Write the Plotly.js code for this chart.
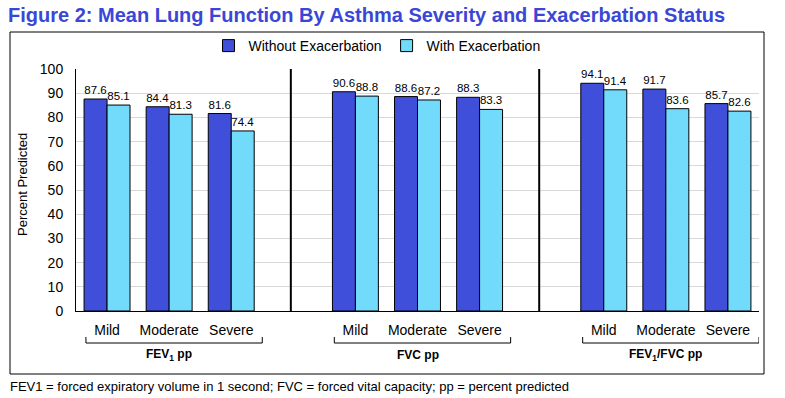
<!DOCTYPE html>
<html><head><meta charset="utf-8">
<script src="https://cdn.plot.ly/plotly-3.0.1.min.js"></script>
<style>html,body{margin:0;padding:0;background:#fff;}#chart{width:785px;height:398px;}</style>
</head><body><div id="chart"></div>
<script>
const groups = ["FEV<sub>1</sub> pp", "FVC pp", "FEV<sub>1</sub>/FVC pp"];
const severities = ["Mild", "Moderate", "Severe"];
const withoutExac = [87.6, 84.4, 81.6, 90.6, 88.6, 88.3, 94.1, 91.7, 85.7];
const withExac    = [85.1, 81.3, 74.4, 88.8, 87.2, 83.3, 91.4, 83.6, 82.6];
const seriesNames = ["Without Exacerbation", "With Exacerbation"];
const yTicks = [0,10,20,30,40,50,60,70,80,90,100];

const W = 785, H = 398;
const M = {l:76, r:26, t:69, b:87};
const PW = W - M.l - M.r, PH = H - M.t - M.b;
const px2x = p => (p - M.l) / PW;
const py2y = p => 1 - (p - M.t) / PH;

// slot positions: group g, severity s -> g*4 + s
const xs = [], labels = [];
groups.forEach((g, gi) => severities.forEach((s, si) => { xs.push(gi*4 + si); labels.push(s); }));

const font = "Liberation Sans, Arial, sans-serif";
const traces = [
  {type:"bar", name:seriesNames[0], x:xs, y:withoutExac, text:withoutExac.map(v=>v.toFixed(1)),
   textposition:"outside", textfont:{size:11.5, color:"#000", family:font}, cliponaxis:false,
   marker:{color:"#3F4FDA", line:{color:"#000", width:1}}, hoverinfo:"none"},
  {type:"bar", name:seriesNames[1], x:xs, y:withExac, text:withExac.map(v=>v.toFixed(1)),
   textposition:"outside", textfont:{size:11.5, color:"#000", family:font}, cliponaxis:false,
   marker:{color:"#72DAFA", line:{color:"#000", width:1}}, hoverinfo:"none"}
];

const shapes = [];
// outer border
shapes.push({type:"rect", xref:"paper", yref:"paper", x0:px2x(10), x1:px2x(764), y0:py2y(374), y1:py2y(32),
  line:{color:"#000", width:1}, layer:"below"});
// separators
[3, 7].forEach(x => shapes.push({type:"line", xref:"x", yref:"paper", x0:x-0.04, x1:x-0.04, y0:0, y1:1, line:{color:"#000", width:2}}));
// brackets
const annotations = [];
groups.forEach((g, gi) => {
  const a = gi*4 - 0.34, b = gi*4 + 2.5;
  const yl = py2y(343), yt = py2y(337);
  shapes.push({type:"path", xref:"x", yref:"paper",
    path:`M ${a},${yt} L ${a},${yl} L ${b},${yl} L ${b},${yt}`, line:{color:"#000", width:1}});
  annotations.push({xref:"x", yref:"paper", x:gi*4+1, y:py2y(355), text:"<b>"+g+"</b>", showarrow:false,
    font:{size:12, color:"#000", family:font}, xanchor:"center", yanchor:"middle"});
});
// y title
annotations.push({xref:"paper", yref:"paper", x:px2x(22), y:py2y(185), text:"Percent Predicted", textangle:-90,
  xanchor:"center", yanchor:"middle",
  showarrow:false, font:{size:13, color:"#000", family:font}});
// footnote
annotations.push({xref:"paper", yref:"paper", x:px2x(8), y:py2y(386), xanchor:"left", yanchor:"middle",
  text:"FEV1 = forced expiratory volume in 1 second; FVC = forced vital capacity; pp = percent predicted",
  showarrow:false, font:{size:13, color:"#000", family:font}});

const layout = {
  width:W, height:H, margin:M, paper_bgcolor:"#fff", plot_bgcolor:"#fff",
  title:{text:"<b>Figure 2: Mean Lung Function By Asthma Severity and Exacerbation Status</b>",
    x:8/W, xanchor:"left", y:1-15/H, yanchor:"middle", font:{size:20, color:"#3A47D6", family:font}},
  barmode:"group", bargap:0.26, bargroupgap:0,
  showlegend:true,
  legend:{orientation:"h", x:px2x(377), xanchor:"center", y:py2y(46), yanchor:"middle",
    font:{size:14, color:"#000", family:font}, bgcolor:"rgba(0,0,0,0)", traceorder:"normal"},
  xaxis:{range:[-0.5, 10.5], tickvals:xs, ticktext:labels, showgrid:false, zeroline:false,
    showline:true, linecolor:"#000", linewidth:1, ticks:"", tickfont:{size:14, color:"#000", family:font},
    ticklabelstandoff:6, fixedrange:true},
  yaxis:{range:[0,100], tickvals:yTicks, showgrid:true, gridcolor:"#D9D9D9", gridwidth:1, zeroline:false,
    showline:true, linecolor:"#000", linewidth:1, ticks:"", tickfont:{size:14, color:"#000", family:font},
    ticklabelstandoff:9, fixedrange:true},
  shapes:shapes, annotations:annotations
};
Plotly.newPlot("chart", traces, layout, {displayModeBar:false, staticPlot:true});
</script></body></html>
